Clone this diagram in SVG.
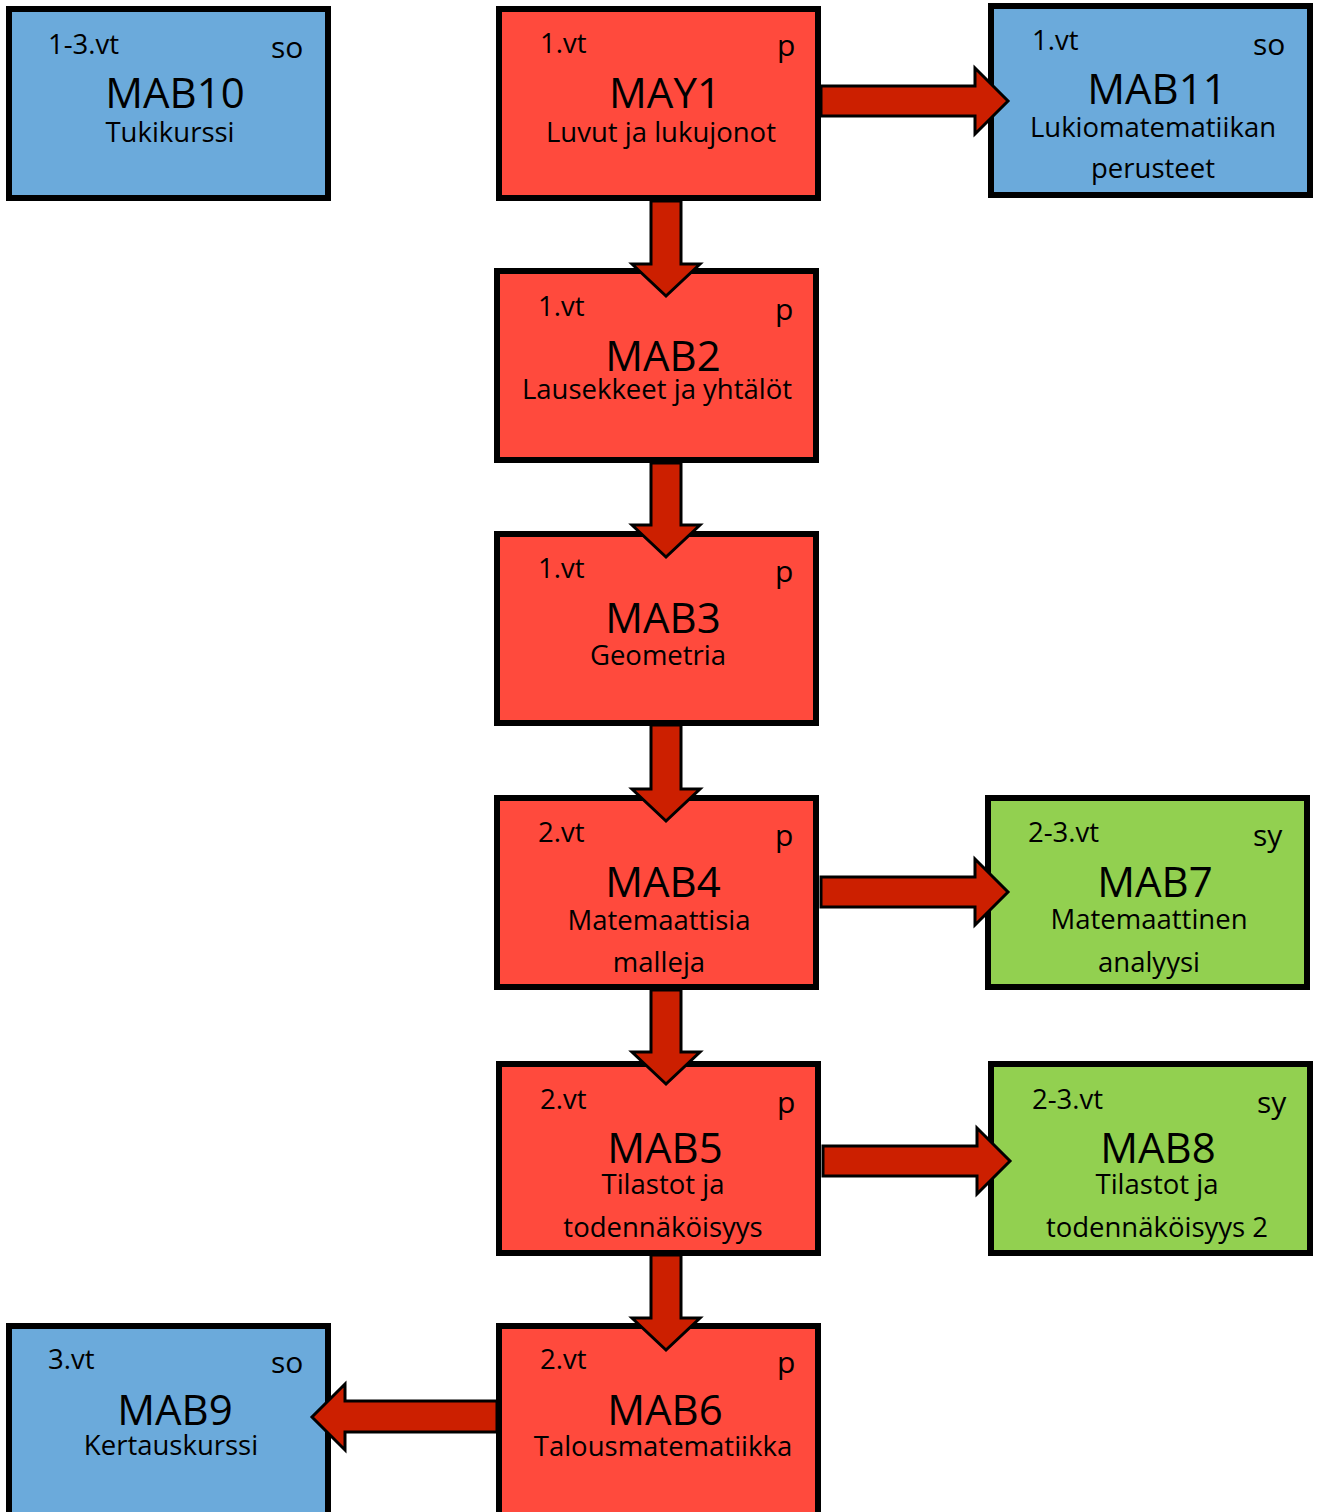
<svg xmlns="http://www.w3.org/2000/svg" width="1317" height="1512" viewBox="0 0 1317 1512">
<style>
.box{stroke:#000;stroke-width:6}
.red{fill:#FF4A3D}
.blue{fill:#6BAADB}
.green{fill:#92D050}
.arr{fill:#CC1F00;stroke:#000;stroke-width:3;stroke-linejoin:miter}
text{font-family:"Open Sans","Liberation Sans",sans-serif;fill:#000}
.sm{font-size:27.5px}
.tag{font-size:30px}
.main{font-size:42px;text-anchor:middle}
.sub{font-size:27.5px;text-anchor:middle}
</style>
<rect width="1317" height="1512" fill="#fff"/>
<g id="MAB10">
<rect class="box blue" x="9" y="9" width="319" height="189"/>
<text class="sm" x="48" y="54">1-3.vt</text>
<text class="tag" x="271" y="58">so</text>
<text class="main" x="175" y="108">MAB10</text>
<text class="sub" x="170" y="142">Tukikurssi</text>
</g>
<g id="MAY1">
<rect class="box red" x="499" y="9" width="319" height="189"/>
<text class="sm" x="540" y="53">1.vt</text>
<text class="tag" x="777" y="56">p</text>
<text class="main" x="665" y="108">MAY1</text>
<text class="sub" x="661" y="142">Luvut ja lukujonot</text>
</g>
<g id="MAB11">
<rect class="box blue" x="991" y="6" width="319" height="189"/>
<text class="sm" x="1032" y="50">1.vt</text>
<text class="tag" x="1253" y="55">so</text>
<text class="main" x="1157" y="104">MAB11</text>
<text class="sub" x="1153" y="137">Lukiomatematiikan</text>
<text class="sub" x="1153" y="178">perusteet</text>
</g>
<g id="MAB2">
<rect class="box red" x="497" y="271" width="319" height="189"/>
<text class="sm" x="538" y="316">1.vt</text>
<text class="tag" x="775" y="320">p</text>
<text class="main" x="663" y="371">MAB2</text>
<text class="sub" x="657" y="399">Lausekkeet ja yhtälöt</text>
</g>
<g id="MAB3">
<rect class="box red" x="497" y="534" width="319" height="189"/>
<text class="sm" x="538" y="578">1.vt</text>
<text class="tag" x="775" y="582">p</text>
<text class="main" x="663" y="633">MAB3</text>
<text class="sub" x="658" y="665">Geometria</text>
</g>
<g id="MAB4">
<rect class="box red" x="497" y="798" width="319" height="189"/>
<text class="sm" x="538" y="842">2.vt</text>
<text class="tag" x="775" y="846">p</text>
<text class="main" x="663" y="897">MAB4</text>
<text class="sub" x="659" y="930">Matemaattisia</text>
<text class="sub" x="659" y="972">malleja</text>
</g>
<g id="MAB7">
<rect class="box green" x="988" y="798" width="319" height="189"/>
<text class="sm" x="1028" y="842">2-3.vt</text>
<text class="tag" x="1253" y="846">sy</text>
<text class="main" x="1155" y="897">MAB7</text>
<text class="sub" x="1149" y="929">Matemaattinen</text>
<text class="sub" x="1149" y="972">analyysi</text>
</g>
<g id="MAB5">
<rect class="box red" x="499" y="1064" width="319" height="189"/>
<text class="sm" x="540" y="1109">2.vt</text>
<text class="tag" x="777" y="1113">p</text>
<text class="main" x="665" y="1163">MAB5</text>
<text class="sub" x="663" y="1194">Tilastot ja</text>
<text class="sub" x="663" y="1237">todennäköisyys</text>
</g>
<g id="MAB8">
<rect class="box green" x="991" y="1064" width="319" height="189"/>
<text class="sm" x="1032" y="1109">2-3.vt</text>
<text class="tag" x="1257" y="1113">sy</text>
<text class="main" x="1158" y="1163">MAB8</text>
<text class="sub" x="1157" y="1194">Tilastot ja</text>
<text class="sub" x="1157" y="1237">todennäköisyys 2</text>
</g>
<g id="MAB6">
<rect class="box red" x="499" y="1326" width="319" height="200"/>
<text class="sm" x="540" y="1369">2.vt</text>
<text class="tag" x="777" y="1373">p</text>
<text class="main" x="665" y="1425">MAB6</text>
<text class="sub" x="663" y="1456">Talousmatematiikka</text>
</g>
<g id="MAB9">
<rect class="box blue" x="9" y="1326" width="319" height="200"/>
<text class="sm" x="48" y="1369">3.vt</text>
<text class="tag" x="271" y="1373">so</text>
<text class="main" x="175" y="1425">MAB9</text>
<text class="sub" x="171" y="1455">Kertauskurssi</text>
</g>
<g id="connectors">
<path class="arr" d="M651,201 L681,201 L681,264 L700,264 L666,296 L632,264 L651,264 Z"/>
<path class="arr" d="M651,463 L681,463 L681,525 L700,525 L666,557 L632,525 L651,525 Z"/>
<path class="arr" d="M651,725 L681,725 L681,789 L700,789 L666,821 L632,789 L651,789 Z"/>
<path class="arr" d="M651,990 L681,990 L681,1052 L700,1052 L666,1084 L632,1052 L651,1052 Z"/>
<path class="arr" d="M651,1255 L681,1255 L681,1318 L700,1318 L666,1350 L632,1318 L651,1318 Z"/>
<path class="arr" d="M821,86 L975,86 L975,68 L1008,101 L975,134 L975,116 L821,116 Z"/>
<path class="arr" d="M821,877 L975,877 L975,859 L1008,892 L975,925 L975,907 L821,907 Z"/>
<path class="arr" d="M823,1146 L977,1146 L977,1128 L1010,1161 L977,1194 L977,1176 L823,1176 Z"/>
<path class="arr" d="M497,1401 L345,1401 L345,1384 L312,1417 L345,1450 L345,1432 L497,1432 Z"/>
</g>
</svg>
